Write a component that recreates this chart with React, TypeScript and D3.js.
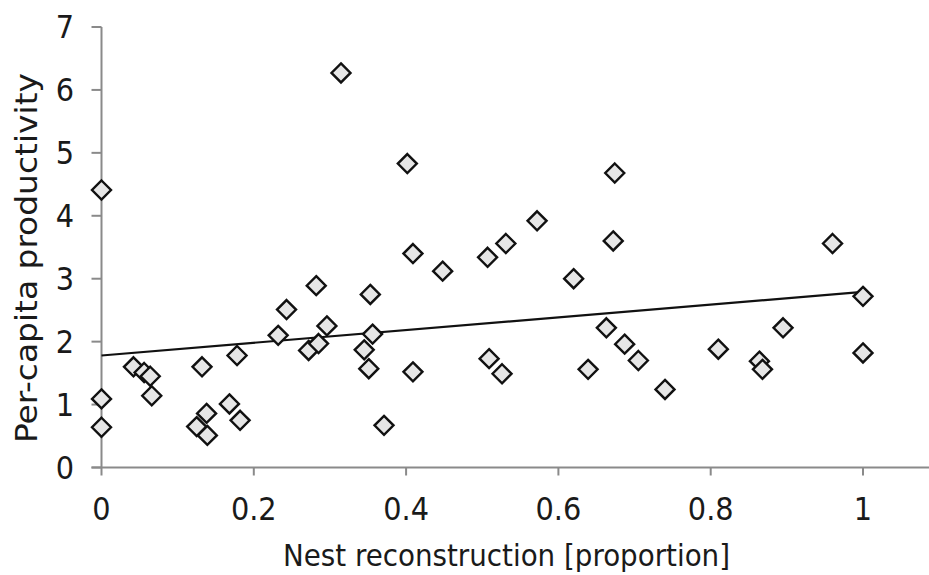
import React from "react";
import * as d3 from "d3";

const xValues: number[] = [0, 0, 0, 0.042, 0.056, 0.064, 0.066, 0.132, 0.138, 0.125, 0.139, 0.168, 0.182, 0.178, 0.232, 0.243, 0.282, 0.272, 0.285, 0.296, 0.3145, 0.4016, 0.409, 0.448, 0.507, 0.531, 0.572, 0.353, 0.356, 0.345, 0.351, 0.409, 0.371, 0.509, 0.526, 0.62, 0.639, 0.663, 0.687, 0.705, 0.74, 0.81, 0.864, 0.868, 0.895, 0.96, 1.0, 1.0, 0.674, 0.672];
const yValues: number[] = [4.41, 1.09, 0.64, 1.6, 1.51, 1.45, 1.14, 1.6, 0.86, 0.65, 0.51, 1.01, 0.75, 1.78, 2.1, 2.51, 2.89, 1.86, 1.97, 2.25, 6.27, 4.83, 3.4, 3.12, 3.34, 3.56, 3.92, 2.75, 2.12, 1.87, 1.57, 1.52, 0.67, 1.73, 1.49, 3.0, 1.56, 2.22, 1.96, 1.7, 1.24, 1.88, 1.69, 1.56, 2.22, 3.56, 2.72, 1.82, 4.68, 3.6];
const trendX: number[] = [0, 1];
const trendY: number[] = [1.78, 2.79];
const xTicks: number[] = [0, 0.2, 0.4, 0.6, 0.8, 1];
const xTickLabels: string[] = ["0", "0.2", "0.4", "0.6", "0.8", "1"];
const yTicks: number[] = [0, 1, 2, 3, 4, 5, 6, 7];
const xTitle = "Nest reconstruction [proportion]";
const yTitle = "Per-capita productivity";

const W = 929;
const H = 575;
const FONT = "'DejaVu Sans Condensed', 'DejaVu Sans', sans-serif";

export default function App() {
  const x = d3.scaleLinear().domain([0, 1]).range([101.5, 863]);
  const y = d3.scaleLinear().domain([0, 7]).range([467.5, 27]);
  const axisColor = "#8a8a8a";
  const r = 9.5;
  const diamond = (cx: number, cy: number) =>
    `M${cx},${cy - r}L${cx + r},${cy}L${cx},${cy + r}L${cx - r},${cy}Z`;
  const line = d3
    .line<number>()
    .x((d) => x(trendX[d]))
    .y((d) => y(trendY[d]));

  return (
    <svg
      width={W}
      height={H}
      style={{ position: "absolute", left: 0, top: 0, background: "#fff" }}
      fontFamily={FONT}
    >
      <rect width={W} height={H} fill="#fff" />
      {/* y axis */}
      <line x1={x(0)} x2={x(0)} y1={y(7)} y2={y(0)} stroke={axisColor} strokeWidth={2} />
      {yTicks.map((t) => (
        <g key={"y" + t}>
          <line x1={x(0) - 10} x2={x(0)} y1={y(t)} y2={y(t)} stroke={axisColor} strokeWidth={2} />
          <text
            x={74}
            y={y(t)}
            textAnchor="end"
            dominantBaseline="central"
            fontSize={32}
            fill="#1a1a1a"
          >
            {String(t)}
          </text>
        </g>
      ))}
      {/* x axis */}
      <line x1={x(0) - 10} x2={W} y1={y(0)} y2={y(0)} stroke={axisColor} strokeWidth={2} />
      {xTicks.map((t, i) => (
        <g key={"x" + t}>
          <line x1={x(t)} x2={x(t)} y1={y(0)} y2={y(0) + 8} stroke={axisColor} strokeWidth={2} />
          <text x={x(t)} y={520} textAnchor="middle" fontSize={32} fill="#1a1a1a">
            {xTickLabels[i]}
          </text>
        </g>
      ))}
      {/* trend line */}
      <path d={line([0, 1]) || ""} stroke="#111" strokeWidth={2.2} fill="none" />
      {/* points */}
      {xValues.map((xv, i) => (
        <path
          key={"p" + i}
          d={diamond(x(xv), y(yValues[i]))}
          fill="#e6e6e6"
          stroke="#111"
          strokeWidth={2.4}
        />
      ))}
      {/* titles */}
      <text
        x={283}
        y={566}
        fontSize={30}
        fill="#1a1a1a"
        textLength={447}
        lengthAdjust="spacingAndGlyphs"
      >
        {xTitle}
      </text>
      <text
        transform={`translate(37,443) rotate(-90)`}
        x={0}
        y={0}
        fontSize={31}
        fill="#1a1a1a"
        textLength={370}
        lengthAdjust="spacingAndGlyphs"
      >
        {yTitle}
      </text>
    </svg>
  );
}
